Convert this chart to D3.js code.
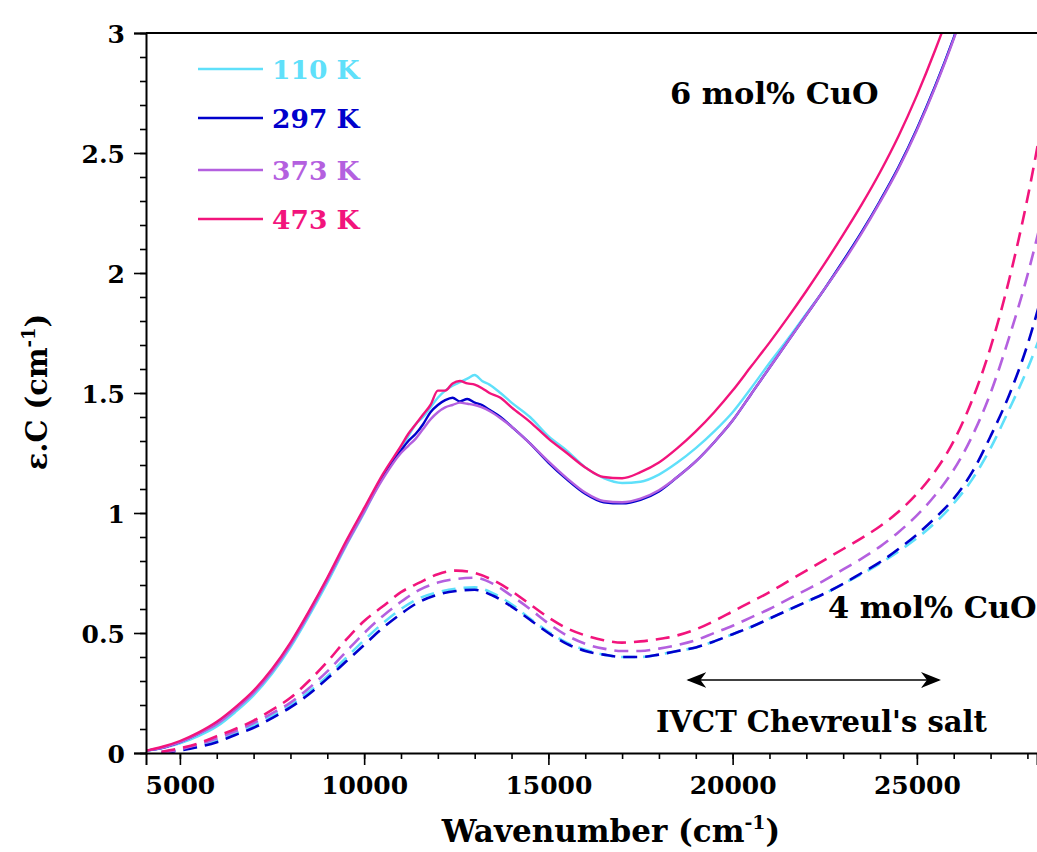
<!DOCTYPE html>
<html>
<head>
<meta charset="utf-8">
<script src="https://cdn.jsdelivr.net/npm/d3@7"></script>
<style>
    body { margin: 0; background: #fff; }
    text { font-family: "DejaVu Serif", serif; font-weight: bold; }
</style>
</head>
<body>
<div id="container"></div>
<script>
// series names and colours
const temps = ["110 K", "297 K", "373 K", "473 K"];
const colors = ["#5fe0fa", "#0000cc", "#b460df", "#f2147c"];

// 6 mol% CuO (solid lines)
const wn6 = [4100, 4500, 5000, 5500, 6000, 6500, 7000, 7500, 8000, 8500, 9000, 9500, 10000, 10500, 11000,
    11200, 11400, 11600, 11800, 12000, 12200, 12400, 12600, 12800, 13000, 13200, 13400, 13700, 14000, 14500,
    15000, 15500, 16000, 16500, 17000, 17500, 18000, 18500, 19000, 19500, 20000, 20500, 21000, 21500, 22000,
    22500, 23000, 23500, 24000, 24500, 25000, 25500, 26000, 26500];
const k110_6 = [0.01, 0.02, 0.04, 0.07, 0.11, 0.17, 0.24, 0.33, 0.44, 0.57, 0.71, 0.86, 1.00, 1.15, 1.27,
    1.32, 1.37, 1.40, 1.44, 1.48, 1.51, 1.53, 1.545, 1.56, 1.575, 1.55, 1.535, 1.50, 1.46, 1.40,
    1.32, 1.26, 1.19, 1.145, 1.125, 1.13, 1.16, 1.21, 1.27, 1.34, 1.42, 1.52, 1.625, 1.725, 1.83,
    1.935, 2.05, 2.17, 2.30, 2.44, 2.60, 2.78, 2.98, 3.2];
const k297_6 = [0.01, 0.02, 0.045, 0.08, 0.125, 0.185, 0.255, 0.345, 0.455, 0.585, 0.725, 0.87, 1.01, 1.15, 1.26,
    1.30, 1.33, 1.37, 1.42, 1.45, 1.47, 1.48, 1.465, 1.475, 1.46, 1.45, 1.43, 1.40, 1.36, 1.29,
    1.21, 1.14, 1.08, 1.045, 1.04, 1.055, 1.09, 1.15, 1.215, 1.295, 1.385, 1.495, 1.605, 1.715, 1.825,
    1.935, 2.05, 2.17, 2.30, 2.44, 2.60, 2.78, 2.98, 3.2];
const k373_6 = [0.01, 0.02, 0.045, 0.08, 0.12, 0.18, 0.25, 0.34, 0.45, 0.58, 0.72, 0.865, 1.005, 1.14, 1.25,
    1.28, 1.31, 1.35, 1.39, 1.42, 1.44, 1.45, 1.46, 1.455, 1.45, 1.44, 1.425, 1.395, 1.36, 1.29,
    1.215, 1.145, 1.085, 1.05, 1.045, 1.06, 1.095, 1.15, 1.215, 1.295, 1.385, 1.495, 1.605, 1.715, 1.825,
    1.935, 2.045, 2.165, 2.295, 2.435, 2.595, 2.775, 2.975, 3.2];
const k473_6 = [0.01, 0.025, 0.05, 0.085, 0.13, 0.19, 0.26, 0.35, 0.46, 0.59, 0.73, 0.88, 1.02, 1.16, 1.28,
    1.33, 1.37, 1.41, 1.45, 1.51, 1.51, 1.54, 1.55, 1.54, 1.535, 1.52, 1.50, 1.48, 1.44, 1.38,
    1.31, 1.25, 1.19, 1.15, 1.145, 1.17, 1.21, 1.27, 1.34, 1.42, 1.51, 1.61, 1.71, 1.815, 1.925,
    2.04, 2.16, 2.285, 2.42, 2.57, 2.74, 2.93, 3.14, 3.38];

// 4 mol% CuO (dashed lines)
const wn4 = [4500, 5000, 5500, 6000, 6500, 7000, 7500, 8000, 8500, 9000, 9500, 10000, 10500, 11000, 11500,
    12000, 12500, 13000, 13500, 14000, 14500, 15000, 15500, 16000, 16500, 17000, 17500, 18000, 18500, 19000,
    19500, 20000, 20500, 21000, 21500, 22000, 22500, 23000, 23500, 24000, 24500, 25000, 25500, 26000, 26500,
    27000, 27500, 28000, 28500];
const k110_4 = [0.005, 0.015, 0.03, 0.05, 0.08, 0.115, 0.155, 0.20, 0.255, 0.32, 0.395, 0.47, 0.54, 0.60, 0.645,
    0.67, 0.685, 0.69, 0.665, 0.62, 0.56, 0.505, 0.46, 0.43, 0.41, 0.40, 0.40, 0.41, 0.425, 0.44,
    0.465, 0.495, 0.525, 0.56, 0.595, 0.63, 0.665, 0.705, 0.745, 0.79, 0.84, 0.895, 0.96, 1.04, 1.14,
    1.27, 1.43, 1.60, 1.80];
const k297_4 = [0.0, 0.01, 0.025, 0.045, 0.075, 0.105, 0.145, 0.19, 0.245, 0.31, 0.38, 0.45, 0.52, 0.58, 0.63,
    0.66, 0.675, 0.68, 0.655, 0.61, 0.555, 0.50, 0.455, 0.425, 0.41, 0.40, 0.40, 0.41, 0.425, 0.44,
    0.465, 0.495, 0.525, 0.56, 0.595, 0.63, 0.665, 0.705, 0.75, 0.795, 0.85, 0.91, 0.98, 1.06, 1.17,
    1.32, 1.49, 1.70, 1.97];
const k373_4 = [0.0, 0.015, 0.035, 0.06, 0.09, 0.125, 0.165, 0.21, 0.27, 0.34, 0.42, 0.50, 0.57, 0.63, 0.68,
    0.71, 0.725, 0.73, 0.705, 0.655, 0.60, 0.54, 0.49, 0.455, 0.435, 0.425, 0.425, 0.435, 0.45, 0.47,
    0.50, 0.53, 0.565, 0.60, 0.64, 0.68, 0.72, 0.765, 0.81, 0.86, 0.92, 0.99, 1.075, 1.18, 1.32,
    1.50, 1.73, 1.99, 2.3];
const k473_4 = [0.005, 0.02, 0.04, 0.07, 0.10, 0.135, 0.18, 0.23, 0.30, 0.38, 0.47, 0.55, 0.61, 0.67, 0.71,
    0.745, 0.76, 0.75, 0.72, 0.675, 0.62, 0.565, 0.52, 0.49, 0.47, 0.46, 0.465, 0.475, 0.49, 0.515,
    0.55, 0.59, 0.63, 0.67, 0.715, 0.76, 0.805, 0.85, 0.895, 0.945, 1.005, 1.08, 1.175, 1.30, 1.47,
    1.69, 1.97, 2.31, 2.72];

const xTicks = [5000, 10000, 15000, 20000, 25000];
const yTicks = [0, 0.5, 1, 1.5, 2, 2.5, 3];

function main() {
    const width = 1037, height = 852;
    const svg = d3.select("#container")
        .append("svg")
        .attr("width", width)
        .attr("height", height);

    const x = d3.scaleLinear().domain([4080, 28260]).range([146, 1037]);
    const y = d3.scaleLinear().domain([0, 3]).range([753, 33]);

    svg.append("defs").append("clipPath")
        .attr("id", "plot")
        .append("rect")
        .attr("x", 146).attr("y", 33)
        .attr("width", 1037 - 146).attr("height", 720);

    const line = d3.line()
        .x(d => x(d[0]))
        .y(d => y(d[1]))
        .curve(d3.curveMonotoneX);

    const solid = [k110_6, k297_6, k373_6, k473_6];
    const dashed = [k110_4, k297_4, k373_4, k473_4];

    const g = svg.append("g").attr("clip-path", "url(#plot)");
    dashed.forEach((s, i) => {
        g.append("path")
            .attr("d", line(wn4.map((w, j) => [w, s[j]])))
            .attr("fill", "none")
            .attr("stroke", colors[i])
            .attr("stroke-width", 2.6)
            .attr("stroke-dasharray", "14,8");
    });
    solid.forEach((s, i) => {
        g.append("path")
            .attr("d", line(wn6.map((w, j) => [w, s[j]])))
            .attr("fill", "none")
            .attr("stroke", colors[i])
            .attr("stroke-width", 2.4);
    });

    // axes
    const xMinor = d3.range(5000, 28001, 1000);
    const yMinor = d3.range(0, 3.01, 0.1);
    svg.append("g")
        .attr("transform", "translate(0,753)")
        .call(d3.axisBottom(x).tickValues(xMinor).tickSize(6).tickFormat(""))
        .call(a => a.select(".domain").remove());
    svg.append("g")
        .attr("transform", "translate(146,0)")
        .call(d3.axisLeft(y).tickValues(yMinor).tickSize(6).tickFormat(""))
        .call(a => a.select(".domain").remove());

    const xa = svg.append("g")
        .attr("transform", "translate(0,753)")
        .call(d3.axisBottom(x).tickValues(xTicks).tickSize(12).tickPadding(11).tickFormat(d3.format("d")));
    const ya = svg.append("g")
        .attr("transform", "translate(146,0)")
        .call(d3.axisLeft(y).tickValues(yTicks).tickSize(12).tickPadding(9).tickFormat(d => d));
    [xa, ya].forEach(a => {
        a.selectAll("text").attr("font-size", 25).attr("fill", "#000")
            .style("font-family", "'DejaVu Serif', serif").style("font-weight", "bold");
        a.select(".domain").attr("stroke-width", 2);
    });
    svg.selectAll(".tick line").attr("stroke-width", 1.6).attr("stroke", "#000");
    ya.selectAll("text").attr("dy", "0.36em");

    svg.append("line")
        .attr("x1", 146).attr("x2", 1037)
        .attr("y1", 33).attr("y2", 33)
        .attr("stroke", "#000").attr("stroke-width", 2);

    // axis titles
    const xt = svg.append("text")
        .attr("x", 611).attr("y", 842)
        .attr("text-anchor", "middle")
        .attr("font-size", 31);
    xt.append("tspan").text("Wavenumber (cm");
    xt.append("tspan").attr("font-size", 19).attr("dy", -13).text("-1");
    xt.append("tspan").attr("dy", 13).text(")");

    const yt = svg.append("text")
        .attr("transform", "translate(47,392) rotate(-90)")
        .attr("text-anchor", "middle")
        .attr("font-size", 29);
    yt.append("tspan").text("ε.C (cm");
    yt.append("tspan").attr("font-size", 18).attr("dy", -12).text("-1");
    yt.append("tspan").attr("dy", 12).text(")");

    // legend
    const legendY = [69, 118, 170, 219];
    const lg = svg.append("g");
    temps.forEach((t, i) => {
        lg.append("line")
            .attr("x1", 198).attr("x2", 263)
            .attr("y1", legendY[i]).attr("y2", legendY[i])
            .attr("stroke", colors[i]).attr("stroke-width", 2.6);
        lg.append("text")
            .attr("x", 272).attr("y", legendY[i])
            .attr("dy", "0.36em")
            .attr("font-size", 26.5)
            .attr("fill", colors[i])
            .text(t);
    });

    // annotations
    svg.append("text").attr("x", 670).attr("y", 104).attr("font-size", 30.5).text("6 mol% CuO");
    svg.append("text").attr("x", 828).attr("y", 618).attr("font-size", 30.5).text("4 mol% CuO");
    svg.append("text").attr("x", 656).attr("y", 732).attr("font-size", 29).text("IVCT Chevreul's salt");

    svg.append("defs").html(
        '<marker id="ah" viewBox="0 0 20 16" refX="18" refY="8" markerWidth="20" markerHeight="16" markerUnits="userSpaceOnUse" orient="auto-start-reverse">' +
        '<path d="M0,0 L20,8 L0,16 L6,8 Z" fill="#000"/></marker>');
    svg.append("line")
        .attr("x1", x(18800)).attr("x2", x(25600))
        .attr("y1", 680).attr("y2", 680)
        .attr("stroke", "#000").attr("stroke-width", 1.6)
        .attr("marker-start", "url(#ah)")
        .attr("marker-end", "url(#ah)");
}
main();
</script>
</body>
</html>
